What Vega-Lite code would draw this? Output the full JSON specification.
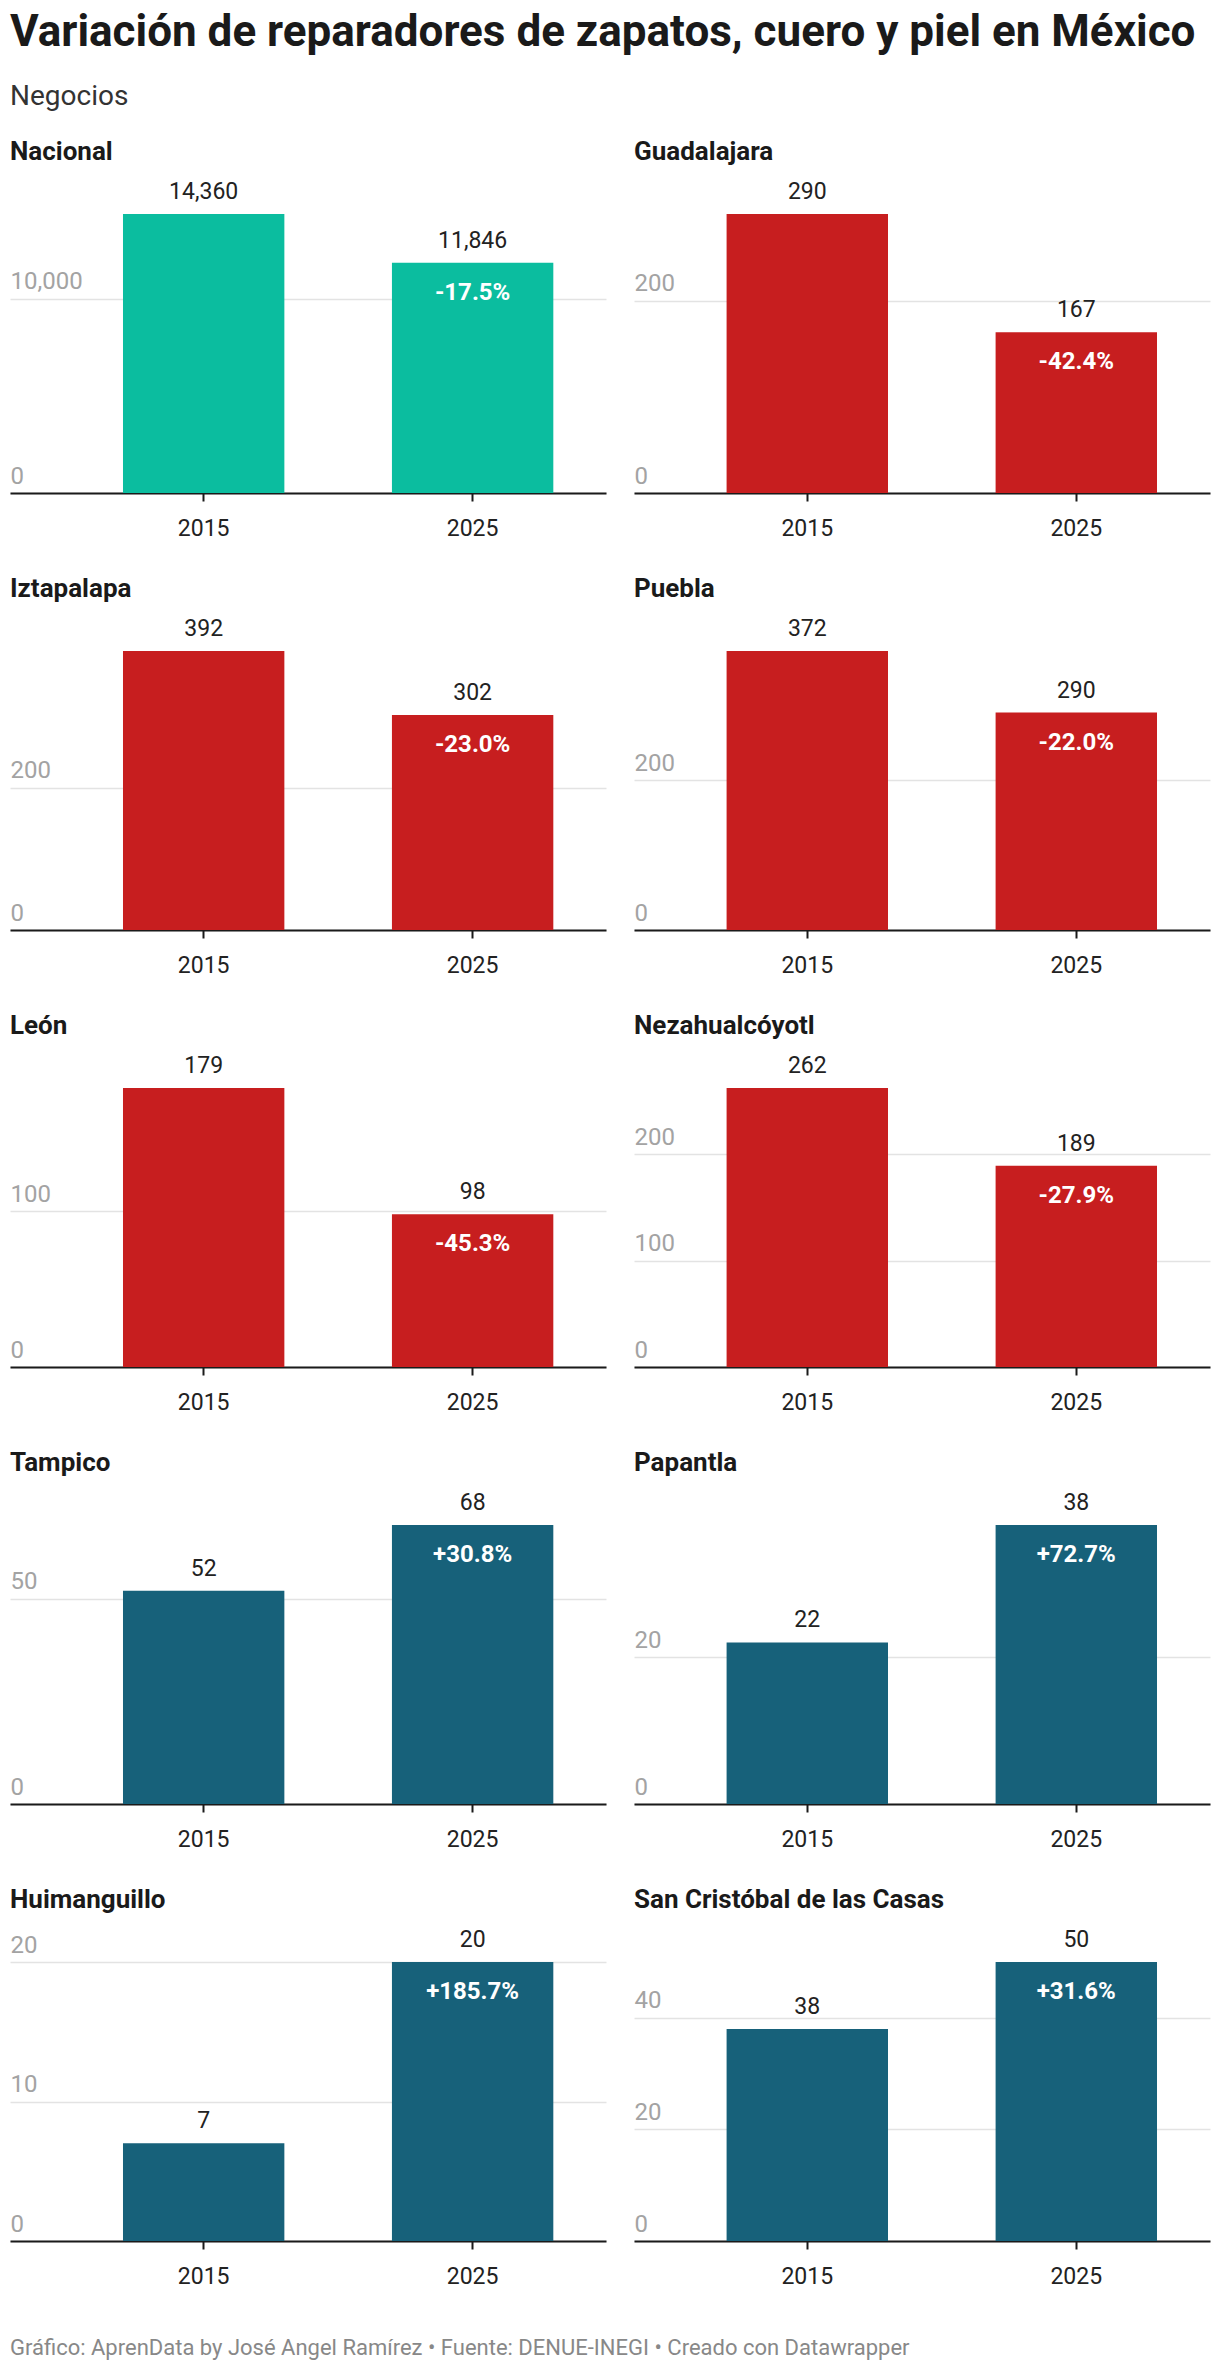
{
  "$schema": "https://vega.github.io/schema/vega-lite/v6.json",
  "background": "white",
  "padding": {"left": 10, "top": 11, "right": 10, "bottom": 4},
  "title": {
    "text": "Variación de reparadores de zapatos, cuero y piel en México",
    "subtitle": "Negocios",
    "anchor": "start",
    "frame": "group",
    "font": "Roboto",
    "fontSize": 44,
    "fontWeight": "bold",
    "color": "#1a1a1a",
    "subtitleFont": "Roboto",
    "subtitleFontSize": 28,
    "subtitleColor": "#333333",
    "subtitlePadding": 28,
    "offset": 28
  },
  "data": {
    "values": [
      {"ciudad": "Nacional", "anio": "2015", "negocios": 14360, "variacion": null, "grupo": "Nacional"},
      {"ciudad": "Nacional", "anio": "2025", "negocios": 11846, "variacion": "-17.5%", "grupo": "Nacional"},
      {"ciudad": "Guadalajara", "anio": "2015", "negocios": 290, "variacion": null, "grupo": "Disminución"},
      {"ciudad": "Guadalajara", "anio": "2025", "negocios": 167, "variacion": "-42.4%", "grupo": "Disminución"},
      {"ciudad": "Iztapalapa", "anio": "2015", "negocios": 392, "variacion": null, "grupo": "Disminución"},
      {"ciudad": "Iztapalapa", "anio": "2025", "negocios": 302, "variacion": "-23.0%", "grupo": "Disminución"},
      {"ciudad": "Puebla", "anio": "2015", "negocios": 372, "variacion": null, "grupo": "Disminución"},
      {"ciudad": "Puebla", "anio": "2025", "negocios": 290, "variacion": "-22.0%", "grupo": "Disminución"},
      {"ciudad": "León", "anio": "2015", "negocios": 179, "variacion": null, "grupo": "Disminución"},
      {"ciudad": "León", "anio": "2025", "negocios": 98, "variacion": "-45.3%", "grupo": "Disminución"},
      {"ciudad": "Nezahualcóyotl", "anio": "2015", "negocios": 262, "variacion": null, "grupo": "Disminución"},
      {"ciudad": "Nezahualcóyotl", "anio": "2025", "negocios": 189, "variacion": "-27.9%", "grupo": "Disminución"},
      {"ciudad": "Tampico", "anio": "2015", "negocios": 52, "variacion": null, "grupo": "Aumento"},
      {"ciudad": "Tampico", "anio": "2025", "negocios": 68, "variacion": "+30.8%", "grupo": "Aumento"},
      {"ciudad": "Papantla", "anio": "2015", "negocios": 22, "variacion": null, "grupo": "Aumento"},
      {"ciudad": "Papantla", "anio": "2025", "negocios": 38, "variacion": "+72.7%", "grupo": "Aumento"},
      {"ciudad": "Huimanguillo", "anio": "2015", "negocios": 7, "variacion": null, "grupo": "Aumento"},
      {"ciudad": "Huimanguillo", "anio": "2025", "negocios": 20, "variacion": "+185.7%", "grupo": "Aumento"},
      {"ciudad": "San Cristóbal de las Casas", "anio": "2015", "negocios": 38, "variacion": null, "grupo": "Aumento"},
      {"ciudad": "San Cristóbal de las Casas", "anio": "2025", "negocios": 50, "variacion": "+31.6%", "grupo": "Aumento"}
    ]
  },
  "vconcat": [
    {
      "columns": 2,
      "spacing": {"row": 36, "column": 28},
      "title": {
        "text": "Gráfico: AprenData by José Angel Ramírez • Fuente: DENUE-INEGI • Creado con Datawrapper",
        "orient": "bottom",
        "anchor": "start",
        "frame": "group",
        "fontSize": 22,
        "fontWeight": "normal",
        "color": "#888888",
        "offset": 50
      },
      "concat": [
        {
          "width": 596, "height": 279,
          "title": "Nacional",
          "transform": [{"filter": "datum.ciudad === 'Nacional'"}],
          "encoding": {
            "x": {"field": "anio", "type": "nominal", "scale": {"paddingOuter": 0.308, "align": 0.682}},
            "y": {"field": "negocios", "type": "quantitative", "scale": {"nice": false, "domainMin": 0}, "axis": {"values": [0, 10000]}}
          },
          "layer": [
            {"mark": "bar", "encoding": {"color": {"field": "grupo", "type": "nominal", "scale": {"domain": ["Nacional", "Disminución", "Aumento"], "range": ["#0bbd9f", "#c71e1f", "#17617a"]}, "legend": null}}},
            {"mark": {"type": "text", "dy": -15}, "encoding": {"text": {"field": "negocios", "type": "quantitative", "format": ",.0f"}}},
            {"transform": [{"filter": "datum.variacion"}], "mark": {"type": "text", "dy": 37, "color": "white", "fontWeight": "bold", "fontSize": 24}, "encoding": {"text": {"field": "variacion"}}}
          ]
        },
        {
          "width": 576, "height": 279,
          "title": "Guadalajara",
          "transform": [{"filter": "datum.ciudad === 'Guadalajara'"}],
          "encoding": {
            "x": {"field": "anio", "type": "nominal", "scale": {"paddingOuter": 0.2706, "align": 0.636}},
            "y": {"field": "negocios", "type": "quantitative", "scale": {"nice": false, "domainMin": 0}, "axis": {"values": [0, 200]}}
          },
          "layer": [
            {"mark": "bar", "encoding": {"color": {"field": "grupo", "type": "nominal", "scale": {"domain": ["Nacional", "Disminución", "Aumento"], "range": ["#0bbd9f", "#c71e1f", "#17617a"]}, "legend": null}}},
            {"mark": {"type": "text", "dy": -15}, "encoding": {"text": {"field": "negocios", "type": "quantitative", "format": ",.0f"}}},
            {"transform": [{"filter": "datum.variacion"}], "mark": {"type": "text", "dy": 37, "color": "white", "fontWeight": "bold", "fontSize": 24}, "encoding": {"text": {"field": "variacion"}}}
          ]
        },
        {
          "width": 596, "height": 279,
          "title": "Iztapalapa",
          "transform": [{"filter": "datum.ciudad === 'Iztapalapa'"}],
          "encoding": {
            "x": {"field": "anio", "type": "nominal", "scale": {"paddingOuter": 0.308, "align": 0.682}},
            "y": {"field": "negocios", "type": "quantitative", "scale": {"nice": false, "domainMin": 0}, "axis": {"values": [0, 200]}}
          },
          "layer": [
            {"mark": "bar", "encoding": {"color": {"field": "grupo", "type": "nominal", "scale": {"domain": ["Nacional", "Disminución", "Aumento"], "range": ["#0bbd9f", "#c71e1f", "#17617a"]}, "legend": null}}},
            {"mark": {"type": "text", "dy": -15}, "encoding": {"text": {"field": "negocios", "type": "quantitative", "format": ",.0f"}}},
            {"transform": [{"filter": "datum.variacion"}], "mark": {"type": "text", "dy": 37, "color": "white", "fontWeight": "bold", "fontSize": 24}, "encoding": {"text": {"field": "variacion"}}}
          ]
        },
        {
          "width": 576, "height": 279,
          "title": "Puebla",
          "transform": [{"filter": "datum.ciudad === 'Puebla'"}],
          "encoding": {
            "x": {"field": "anio", "type": "nominal", "scale": {"paddingOuter": 0.2706, "align": 0.636}},
            "y": {"field": "negocios", "type": "quantitative", "scale": {"nice": false, "domainMin": 0}, "axis": {"values": [0, 200]}}
          },
          "layer": [
            {"mark": "bar", "encoding": {"color": {"field": "grupo", "type": "nominal", "scale": {"domain": ["Nacional", "Disminución", "Aumento"], "range": ["#0bbd9f", "#c71e1f", "#17617a"]}, "legend": null}}},
            {"mark": {"type": "text", "dy": -15}, "encoding": {"text": {"field": "negocios", "type": "quantitative", "format": ",.0f"}}},
            {"transform": [{"filter": "datum.variacion"}], "mark": {"type": "text", "dy": 37, "color": "white", "fontWeight": "bold", "fontSize": 24}, "encoding": {"text": {"field": "variacion"}}}
          ]
        },
        {
          "width": 596, "height": 279,
          "title": "León",
          "transform": [{"filter": "datum.ciudad === 'León'"}],
          "encoding": {
            "x": {"field": "anio", "type": "nominal", "scale": {"paddingOuter": 0.308, "align": 0.682}},
            "y": {"field": "negocios", "type": "quantitative", "scale": {"nice": false, "domainMin": 0}, "axis": {"values": [0, 100]}}
          },
          "layer": [
            {"mark": "bar", "encoding": {"color": {"field": "grupo", "type": "nominal", "scale": {"domain": ["Nacional", "Disminución", "Aumento"], "range": ["#0bbd9f", "#c71e1f", "#17617a"]}, "legend": null}}},
            {"mark": {"type": "text", "dy": -15}, "encoding": {"text": {"field": "negocios", "type": "quantitative", "format": ",.0f"}}},
            {"transform": [{"filter": "datum.variacion"}], "mark": {"type": "text", "dy": 37, "color": "white", "fontWeight": "bold", "fontSize": 24}, "encoding": {"text": {"field": "variacion"}}}
          ]
        },
        {
          "width": 576, "height": 279,
          "title": "Nezahualcóyotl",
          "transform": [{"filter": "datum.ciudad === 'Nezahualcóyotl'"}],
          "encoding": {
            "x": {"field": "anio", "type": "nominal", "scale": {"paddingOuter": 0.2706, "align": 0.636}},
            "y": {"field": "negocios", "type": "quantitative", "scale": {"nice": false, "domainMin": 0}, "axis": {"values": [0, 100, 200]}}
          },
          "layer": [
            {"mark": "bar", "encoding": {"color": {"field": "grupo", "type": "nominal", "scale": {"domain": ["Nacional", "Disminución", "Aumento"], "range": ["#0bbd9f", "#c71e1f", "#17617a"]}, "legend": null}}},
            {"mark": {"type": "text", "dy": -15}, "encoding": {"text": {"field": "negocios", "type": "quantitative", "format": ",.0f"}}},
            {"transform": [{"filter": "datum.variacion"}], "mark": {"type": "text", "dy": 37, "color": "white", "fontWeight": "bold", "fontSize": 24}, "encoding": {"text": {"field": "variacion"}}}
          ]
        },
        {
          "width": 596, "height": 279,
          "title": "Tampico",
          "transform": [{"filter": "datum.ciudad === 'Tampico'"}],
          "encoding": {
            "x": {"field": "anio", "type": "nominal", "scale": {"paddingOuter": 0.308, "align": 0.682}},
            "y": {"field": "negocios", "type": "quantitative", "scale": {"nice": false, "domainMin": 0}, "axis": {"values": [0, 50]}}
          },
          "layer": [
            {"mark": "bar", "encoding": {"color": {"field": "grupo", "type": "nominal", "scale": {"domain": ["Nacional", "Disminución", "Aumento"], "range": ["#0bbd9f", "#c71e1f", "#17617a"]}, "legend": null}}},
            {"mark": {"type": "text", "dy": -15}, "encoding": {"text": {"field": "negocios", "type": "quantitative", "format": ",.0f"}}},
            {"transform": [{"filter": "datum.variacion"}], "mark": {"type": "text", "dy": 37, "color": "white", "fontWeight": "bold", "fontSize": 24}, "encoding": {"text": {"field": "variacion"}}}
          ]
        },
        {
          "width": 576, "height": 279,
          "title": "Papantla",
          "transform": [{"filter": "datum.ciudad === 'Papantla'"}],
          "encoding": {
            "x": {"field": "anio", "type": "nominal", "scale": {"paddingOuter": 0.2706, "align": 0.636}},
            "y": {"field": "negocios", "type": "quantitative", "scale": {"nice": false, "domainMin": 0}, "axis": {"values": [0, 20]}}
          },
          "layer": [
            {"mark": "bar", "encoding": {"color": {"field": "grupo", "type": "nominal", "scale": {"domain": ["Nacional", "Disminución", "Aumento"], "range": ["#0bbd9f", "#c71e1f", "#17617a"]}, "legend": null}}},
            {"mark": {"type": "text", "dy": -15}, "encoding": {"text": {"field": "negocios", "type": "quantitative", "format": ",.0f"}}},
            {"transform": [{"filter": "datum.variacion"}], "mark": {"type": "text", "dy": 37, "color": "white", "fontWeight": "bold", "fontSize": 24}, "encoding": {"text": {"field": "variacion"}}}
          ]
        },
        {
          "width": 596, "height": 279,
          "title": "Huimanguillo",
          "transform": [{"filter": "datum.ciudad === 'Huimanguillo'"}],
          "encoding": {
            "x": {"field": "anio", "type": "nominal", "scale": {"paddingOuter": 0.308, "align": 0.682}},
            "y": {"field": "negocios", "type": "quantitative", "scale": {"nice": false, "domainMin": 0}, "axis": {"values": [0, 10, 20]}}
          },
          "layer": [
            {"mark": "bar", "encoding": {"color": {"field": "grupo", "type": "nominal", "scale": {"domain": ["Nacional", "Disminución", "Aumento"], "range": ["#0bbd9f", "#c71e1f", "#17617a"]}, "legend": null}}},
            {"mark": {"type": "text", "dy": -15}, "encoding": {"text": {"field": "negocios", "type": "quantitative", "format": ",.0f"}}},
            {"transform": [{"filter": "datum.variacion"}], "mark": {"type": "text", "dy": 37, "color": "white", "fontWeight": "bold", "fontSize": 24}, "encoding": {"text": {"field": "variacion"}}}
          ]
        },
        {
          "width": 576, "height": 279,
          "title": "San Cristóbal de las Casas",
          "transform": [{"filter": "datum.ciudad === 'San Cristóbal de las Casas'"}],
          "encoding": {
            "x": {"field": "anio", "type": "nominal", "scale": {"paddingOuter": 0.2706, "align": 0.636}},
            "y": {"field": "negocios", "type": "quantitative", "scale": {"nice": false, "domainMin": 0}, "axis": {"values": [0, 20, 40]}}
          },
          "layer": [
            {"mark": "bar", "encoding": {"color": {"field": "grupo", "type": "nominal", "scale": {"domain": ["Nacional", "Disminución", "Aumento"], "range": ["#0bbd9f", "#c71e1f", "#17617a"]}, "legend": null}}},
            {"mark": {"type": "text", "dy": -15}, "encoding": {"text": {"field": "negocios", "type": "quantitative", "format": ",.0f"}}},
            {"transform": [{"filter": "datum.variacion"}], "mark": {"type": "text", "dy": 37, "color": "white", "fontWeight": "bold", "fontSize": 24}, "encoding": {"text": {"field": "variacion"}}}
          ]
        }
      ]
    }
  ],
  "config": {
    "font": "Roboto",
    "view": {"stroke": null},
    "scale": {"bandPaddingInner": 0.4},
    "axisX": {
      "title": null, "labelAngle": 0, "grid": false,
      "domainColor": "#1a1a1a", "domainWidth": 2,
      "tickColor": "#1a1a1a", "tickWidth": 2, "tickSize": 8,
      "labelFont": "Roboto", "labelFontSize": 23, "labelColor": "#222222", "labelPadding": 16,
      "zindex": 1
    },
    "axisY": {
      "title": null, "domain": false, "ticks": false, "grid": true,
      "gridColor": "#e3e3e3", "gridWidth": 1.5,
      "labelAlign": "left", "labelPadding": 0, "labelBaseline": "alphabetic", "labelOffset": -10,
      "labelFont": "Roboto", "labelFontSize": 24, "labelColor": "#a3a3a3", "format": ",.0f",
      "zindex": 0
    },
    "title": {"anchor": "start", "frame": "group", "font": "Roboto", "fontSize": 26, "fontWeight": "bold", "color": "#1a1a1a", "offset": 16},
    "text": {"font": "Roboto", "fontSize": 23, "baseline": "alphabetic", "color": "#222222"}
  }
}
